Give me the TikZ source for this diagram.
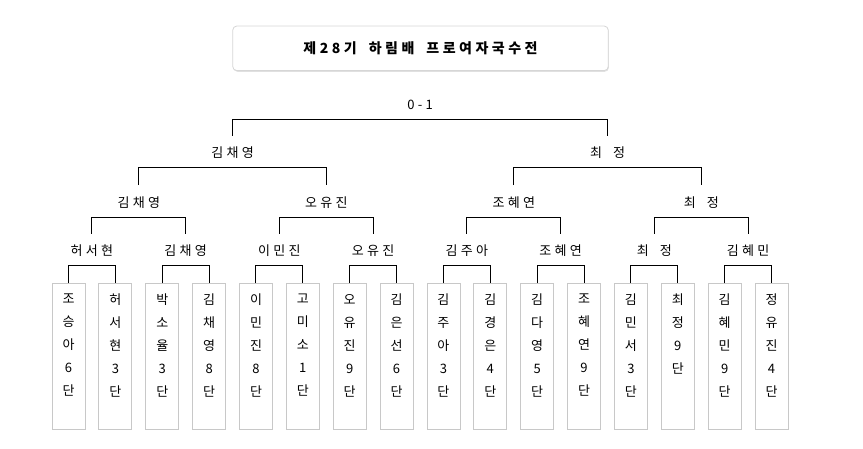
\documentclass[tikz,border=0pt]{standalone}
\usepackage{fontspec}
\setmainfont{Noto Sans CJK KR}[LetterSpace=25, WordSpace=1.8]
\usetikzlibrary{positioning,shadows}
\definecolor{boxgray}{HTML}{C8C8C8}
\definecolor{titlegray}{HTML}{D6D6D6}
\tikzset{
  bracket/.style={line width=1pt},
  winner/.style={font=\fontsize{13}{15}\selectfont, inner xsep=0pt, inner ysep=12pt,
    text height=10pt, text depth=2pt},
  player/.style={draw=boxgray, line width=0.8pt, minimum width=33pt, minimum height=145.5pt,
    inner sep=0pt, anchor=north},
  playername/.style={font=\fontsize{13}{23}\selectfont, align=center, inner sep=0pt},
  titlebox/.style={draw=titlegray, rounded corners=4pt, fill=white, line width=0.8pt,
    minimum width=375.5pt, minimum height=44.5pt,
    drop shadow={shadow xshift=0.6pt, shadow yshift=-1.2pt, opacity=0.12, fill=black}},
}

\begin{document}
\begin{tikzpicture}[x=1pt,y=-1pt]
    \useasboundingbox (0,0) rectangle (863,448);
    % title
    \node[titlebox] (title) at (420.5,48.3)
        {\bfseries\fontsize{14}{16}\selectfont 제28기 하림배 프로여자국수전};

    % players
    \foreach \n/\who in {1/{조\\승\\아\\6\\단}, 2/{허\\서\\현\\3\\단},
        3/{박\\소\\율\\3\\단}, 4/{김\\채\\영\\8\\단}, 5/{이\\민\\진\\8\\단},
        6/{고\\미\\소\\1\\단}, 7/{오\\유\\진\\9\\단}, 8/{김\\은\\선\\6\\단},
        9/{김\\주\\아\\3\\단}, 10/{김\\경\\은\\4\\단}, 11/{김\\다\\영\\5\\단},
        12/{조\\혜\\연\\9\\단}, 13/{김\\민\\서\\3\\단}, 14/{최\\정\\9\\단},
        15/{김\\혜\\민\\9\\단}, 16/{정\\유\\진\\4\\단}}{
        \node[player] (b\n) at ({68.5+(\n-1)*46.87},283) {};
        \node[playername, below=11pt of b\n.north] (p\n) {\who};
    }

    % round of 16
    \foreach \k/\who in {1/허서현, 2/김채영, 3/이민진, 4/오유진,
        5/김주아, 6/조혜연, 7/최 정, 8/김혜민}{
        \node[winner] (r\k) at ({91.9+(\k-1)*93.74},251.7) {\who};
    }
    \foreach \k [evaluate=\k as \a using int(2*\k-1),
                 evaluate=\k as \b using int(2*\k)] in {1,...,8}{
        \draw[bracket] (b\a.north) |- ([yshift=-14pt]r\k.center) -| (b\b.north);
    }

    % quarter finals
    \foreach \k/\who in {1/김채영, 2/오유진, 3/조혜연, 4/최 정}{
        \node[winner] (q\k) at ({138.8+(\k-1)*187.5},203.3) {\who};
    }
    \foreach \k [evaluate=\k as \a using int(2*\k-1),
                 evaluate=\k as \b using int(2*\k)] in {1,...,4}{
        \draw[bracket] (r\a.north) |- ([yshift=-14pt]q\k.center) -| (r\b.north);
    }

    % semi finals
    \node[winner] (s1) at (232.6,153.7) {김채영};
    \node[winner] (s2) at (607.6,153.7) {최 정};
    \draw[bracket] (q1.north) |- ([yshift=-14pt]s1.center) -| (q2.north);
    \draw[bracket] (q3.north) |- ([yshift=-14pt]s2.center) -| (q4.north);

    % final
    \node[winner] (f) at (420.1,105.5) {0-1};
    \draw[bracket] (s1.north) |- ([yshift=-14pt]f.center) -| (s2.north);
\end{tikzpicture}
\end{document}
